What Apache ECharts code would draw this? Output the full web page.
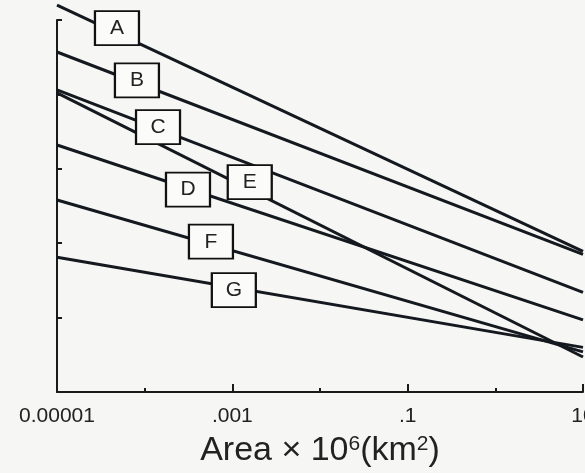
<!DOCTYPE html>
<html>
<head>
<meta charset="utf-8">
<script src="https://cdn.jsdelivr.net/npm/echarts@6/dist/echarts.min.js"></script>
<style>
html,body{margin:0;padding:0;background:#f6f6f4;}
#chart{width:585px;height:473px;}
</style>
</head>
<body>
<div id="chart"></div>
<script>
// Line names and end values (y in axis units 0..5, x log scale)
const lineNames = ['A', 'B', 'C', 'D', 'E', 'F', 'G'];
const xEnds = [0.00001, 10];
const startVals = [5.20, 4.57, 4.06, 3.32, 4.02, 2.58, 1.81];
const endVals = [1.89, 1.85, 1.34, 0.97, 0.47, 0.54, 0.60];
// Label box positions
const labelX = [4.83e-5, 8.16e-5, 1.42e-4, 3.12e-4, 1.58e-3, 5.7e-4, 1.04e-3];
const labelY = [4.89, 4.19, 3.56, 2.72, 2.82, 2.02, 1.37];
// Major tick labels (every second decade)
const majorTickLabels = ['0.00001', '.001', '.1', '10'];

const FONT = "'Liberation Sans', Arial, Helvetica, sans-serif";
const INK = '#14181f';

const chart = echarts.init(document.getElementById('chart'), null, {renderer: 'canvas'});

const series = lineNames.map((n, i) => ({
  name: n,
  type: 'line',
  xAxisIndex: 0,
  yAxisIndex: 0,
  symbol: 'none',
  clip: false,
  silent: true,
  lineStyle: {color: INK, width: 3},
  data: [[xEnds[0], startVals[i]], [xEnds[1], endVals[i]]],
  z: 2
}));

series.push({
  name: 'labels',
  type: 'scatter',
  xAxisIndex: 0,
  yAxisIndex: 0,
  symbol: 'rect',
  symbolSize: [44, 34],
  silent: true,
  itemStyle: {color: '#fbfbfa', borderColor: '#111', borderWidth: 2, opacity: 1},
  label: {
    show: true,
    position: 'inside',
    formatter: p => lineNames[p.dataIndex],
    fontFamily: FONT,
    fontSize: 21,
    color: '#222'
  },
  data: labelX.map((x, i) => [x, labelY[i]]),
  z: 5
});

chart.setOption({
  animation: false,
  backgroundColor: '#f6f6f4',
  grid: {left: 57, right: 2, top: 20, bottom: 81, containLabel: false, outerBoundsMode: 'none'},
  xAxis: [
    {
      type: 'log',
      logBase: 10,
      min: 0.00001,
      max: 10,
      position: 'bottom',
      axisLine: {show: true, lineStyle: {color: '#1a1a1a', width: 2}},
      axisTick: {show: true, inside: true, length: 4, lineStyle: {color: '#1a1a1a', width: 2}},
      axisLabel: {show: false},
      splitLine: {show: false},
      minorTick: {show: false},
      name: 'Area × 10{sup|6}(km{sup|2})',
      nameLocation: 'middle',
      nameGap: 42,
      nameTextStyle: {
        fontFamily: FONT,
        fontSize: 34,
        color: '#222',
        rich: {
          sup: {fontFamily: FONT, fontSize: 21, color: '#222', verticalAlign: 'top'}
        }
      }
    },
    {
      type: 'value',
      min: 0,
      max: 6,
      interval: 2,
      position: 'bottom',
      axisLine: {show: false},
      axisTick: {show: true, inside: true, length: 8, lineStyle: {color: '#1a1a1a', width: 2}},
      axisLabel: {
        show: true,
        margin: 14,
        fontFamily: FONT,
        fontSize: 21,
        color: '#222',
        alignMinLabel: 'center',
        alignMaxLabel: 'center',
        formatter: v => majorTickLabels[Math.round(v / 2)] || ''
      },
      splitLine: {show: false}
    }
  ],
  yAxis: {
    type: 'value',
    min: 0,
    max: 5,
    interval: 1,
    axisLine: {show: true, lineStyle: {color: '#1a1a1a', width: 2}},
    axisTick: {show: true, inside: true, length: 5, lineStyle: {color: '#1a1a1a', width: 2}},
    axisLabel: {show: false},
    splitLine: {show: false}
  },
  series: series
});
</script>
</body>
</html>
